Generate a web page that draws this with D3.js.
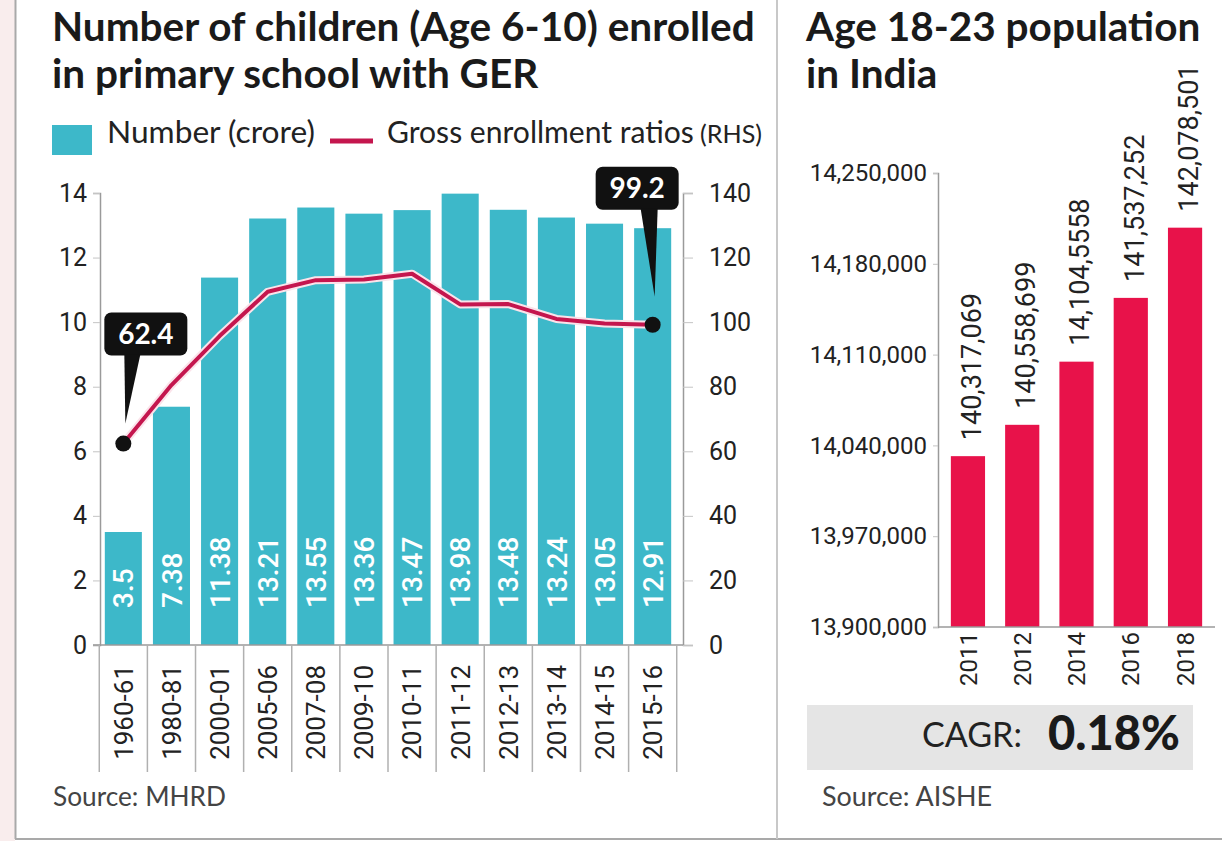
<!DOCTYPE html>
<html>
<head>
<meta charset="utf-8">
<script src="https://cdn.jsdelivr.net/npm/d3@7"></script>
<style>
body { margin: 0; background: #fff; }
svg { display: block; }
</style>
</head>
<body>
<svg id="chart" width="1222" height="841"></svg>
<script>
// left chart data
var periods = ["1960-61", "1980-81", "2000-01", "2005-06", "2007-08", "2009-10", "2010-11", "2011-12", "2012-13", "2013-14", "2014-15", "2015-16"];
var children = [3.5, 7.38, 11.38, 13.21, 13.55, 13.36, 13.47, 13.98, 13.48, 13.24, 13.05, 12.91];
var ger = [62.4, 80.5, 95.7, 109.4, 113.0, 113.2, 115.0, 105.5, 105.6, 101.0, 99.6, 99.2];
var leftTicks = [0, 2, 4, 6, 8, 10, 12, 14];
var rightTicks = [0, 20, 40, 60, 80, 100, 120, 140];
// right chart data
var popYears = ["2011", "2012", "2014", "2016", "2018"];
var popValues = [14031707, 14055870, 14104556, 14153725, 14207850];
var popLabels = ["140,317,069", "140,558,699", "14,104,5558", "141,537,252", "142,078,501"];
var popTicks = [13900000, 13970000, 14040000, 14110000, 14180000, 14250000];
var cagrText = "0.18%";

var teal = "#3db8c9", crimson = "#c4164e", popRed = "#e8124a";
var titleFont = "Lato, 'Noto Sans', sans-serif";
var numFont = "Roboto, 'Noto Sans', sans-serif";

var svg = d3.select("#chart");

//Frame: pink strip on the left, grey borders
svg.append("rect").attr("x", 0).attr("y", 0).attr("width", 15).attr("height", 841).attr("fill", "#f9eded");
svg.append("line").attr("x1", 15.5).attr("y1", 0).attr("x2", 15.5).attr("y2", 839).attr("stroke", "#a9a9a9").attr("stroke-width", 2);
svg.append("line").attr("x1", 15).attr("y1", 839).attr("x2", 1222).attr("y2", 839).attr("stroke", "#a9a9a9").attr("stroke-width", 2);
svg.append("line").attr("x1", 777).attr("y1", 0).attr("x2", 777).attr("y2", 839).attr("stroke", "#c8c8c8").attr("stroke-width", 2);

//scale a text so it spans a given width
function fitWidth(sel, w) {
    var len = sel.node().getComputedTextLength();
    var fs = parseFloat(sel.attr("font-size"));
    sel.attr("font-size", fs * w / len);
}

//Titles
function title(x, y, txt, w) {
    var t = svg.append("text").attr("x", x).attr("y", y).attr("font-family", titleFont).attr("font-weight", 700)
        .attr("font-size", 37).attr("fill", "#1a1a1a").text(txt);
    if(w) fitWidth(t, w);
    return t;
}
var t1 = title(52, 41, "Number of children (Age 6-10) enrolled", 703);
title(52, 88, "in primary school with GER").attr("font-size", t1.attr("font-size"));
title(806, 41, "Age 18-23 population", 387).attr("font-size", t1.attr("font-size"));
title(806, 88, "in India").attr("font-size", t1.attr("font-size"));

//Legend
svg.append("rect").attr("x", 52).attr("y", 125).attr("width", 40).attr("height", 30).attr("fill", teal);
var lg1 = svg.append("text").attr("x", 107).attr("y", 143).attr("font-family", titleFont).attr("font-size", 27).attr("fill", "#222").text("Number (crore)");
fitWidth(lg1, 208);
svg.append("line").attr("x1", 330).attr("y1", 141).attr("x2", 373).attr("y2", 141).attr("stroke", crimson).attr("stroke-width", 5);
var lg2 = svg.append("text").attr("x", 387).attr("y", 143).attr("font-family", titleFont).attr("font-size", 27).attr("fill", "#222").text("Gross enrollment ratios");
fitWidth(lg2, 307);
var lg3 = svg.append("text").attr("x", 700).attr("y", 143).attr("font-family", titleFont).attr("font-size", 22).attr("fill", "#222").text("(RHS)");
fitWidth(lg3, 62);

//Left chart scales
var x = d3.scaleBand().domain(periods).range([100, 676]).paddingInner(0.23).paddingOuter(0.1);
var yL = d3.scaleLinear().domain([0, 14]).range([645, 193]);
var yR = d3.scaleLinear().domain([0, 140]).range([645, 193]);

//Bars
svg.append("g").selectAll("rect").data(children).join("rect")
    .attr("x", function(d, i) { return x(periods[i]); })
    .attr("y", function(d) { return yL(d); })
    .attr("width", x.bandwidth())
    .attr("height", function(d) { return yL(0) - yL(d); })
    .attr("fill", teal);

//Bar value labels
svg.append("g").selectAll("text").data(children).join("text")
    .attr("transform", function(d, i) { return "translate(" + (x(periods[i]) + x.bandwidth() / 2) + ",608) rotate(-90)"; })
    .attr("dy", "0.36em")
    .attr("font-family", numFont).attr("font-weight", 500).attr("font-size", 28).attr("fill", "#fff")
    .text(function(d) { return d; });

//Left axis
var leftAxis = svg.append("g").attr("transform", "translate(100,0)")
    .call(d3.axisLeft(yL).tickValues(leftTicks).tickSize(7).tickPadding(6).tickFormat(d3.format("d")));
leftAxis.select(".domain").attr("stroke", "#9a9a9a").attr("stroke-width", 1.5);
leftAxis.selectAll(".tick line").attr("stroke", "#c4c4c4");
leftAxis.selectAll("text").attr("font-family", numFont).attr("font-size", 25).attr("fill", "#222");

//Right axis
var rightAxis = svg.append("g").attr("transform", "translate(683,0)")
    .call(d3.axisRight(yR).tickValues(rightTicks).tickSize(10).tickPadding(16).tickFormat(d3.format("d")));
rightAxis.select(".domain").attr("stroke", "#9a9a9a").attr("stroke-width", 1.5);
rightAxis.selectAll(".tick line").attr("stroke", "#c4c4c4");
rightAxis.selectAll("text").attr("font-family", numFont).attr("font-size", 25).attr("fill", "#222");

//Baseline and category separators
svg.append("line").attr("x1", 93).attr("y1", 645).attr("x2", 683).attr("y2", 645).attr("stroke", "#9a9a9a").attr("stroke-width", 1.5);
var seps = periods.map(function(p) { return x(p) - x.step() * x.paddingInner() / 2; });
seps.push(x(periods[periods.length - 1]) + x.bandwidth() + x.step() * x.paddingInner() / 2);
svg.append("g").selectAll("line").data(seps).join("line")
    .attr("x1", function(d) { return d; }).attr("x2", function(d) { return d; })
    .attr("y1", 645).attr("y2", 772)
    .attr("stroke", "#b0b0b0").attr("stroke-width", 1.5);

//Category labels
svg.append("g").selectAll("text").data(periods).join("text")
    .attr("transform", function(d) { return "translate(" + (x(d) + x.bandwidth() / 2) + ",665) rotate(-90)"; })
    .attr("dy", "0.36em").attr("text-anchor", "end")
    .attr("font-family", numFont).attr("font-size", 26).attr("fill", "#222")
    .text(function(d) { return d; });

//GER line
var line = d3.line()
    .x(function(d, i) { return x(periods[i]) + x.bandwidth() / 2; })
    .y(function(d) { return yR(d); });
svg.append("path").datum(ger).attr("d", line).attr("fill", "none").attr("stroke", "#fbe3ea").attr("stroke-width", 8).attr("stroke-linejoin", "round");
svg.append("path").datum(ger).attr("d", line).attr("fill", "none").attr("stroke", crimson).attr("stroke-width", 4).attr("stroke-linejoin", "round");

//Callouts on first and last points
function callout(i, dx, dy, baseL, baseR, tipGap) {
    var px = x(periods[i]) + x.bandwidth() / 2, py = yR(ger[i]);
    var bx = px + dx, by = py + dy, w = 83, h = 43;
    var g = svg.append("g");
    g.append("rect").attr("x", bx).attr("y", by).attr("width", w).attr("height", h).attr("rx", 7).attr("fill", "#111");
    g.append("path").attr("d", "M" + (bx + baseL) + "," + (by + h - 1) + "L" + (bx + baseR) + "," + (by + h - 1) + "L" + (px + 2) + "," + (py - tipGap) + "Z").attr("fill", "#111");
    g.append("circle").attr("cx", px).attr("cy", py).attr("r", 8).attr("fill", "#111");
    g.append("text").attr("x", bx + w / 2).attr("y", by + h / 2).attr("dy", "0.36em").attr("text-anchor", "middle")
        .attr("font-family", titleFont).attr("font-weight", 700).attr("font-size", 28).attr("fill", "#fff").text(ger[i]);
}
callout(0, -19, -131, 20, 36, 20);
callout(ger.length - 1, -57, -158, 45, 62, 28);

//Right chart
var xP = d3.scaleBand().domain(popYears).range([940, 1213]).paddingInner(0.37).paddingOuter(0.2);
var yP = d3.scaleLinear().domain([13900000, 14250000]).range([627, 173]);

svg.append("g").selectAll("rect").data(popValues).join("rect")
    .attr("x", function(d, i) { return xP(popYears[i]); })
    .attr("y", function(d) { return yP(d); })
    .attr("width", xP.bandwidth())
    .attr("height", function(d) { return yP(13900000) - yP(d); })
    .attr("fill", popRed);

svg.append("g").selectAll("text").data(popValues).join("text")
    .attr("transform", function(d, i) { return "translate(" + (xP(popYears[i]) + xP.bandwidth() / 2 + 3) + "," + (yP(d) - 16) + ") rotate(-90)"; })
    .attr("dy", "0.36em")
    .attr("font-family", numFont).attr("font-size", 27).attr("fill", "#222")
    .text(function(d, i) { return popLabels[i]; });

var popAxis = svg.append("g").attr("transform", "translate(938,0)")
    .call(d3.axisLeft(yP).tickValues(popTicks).tickSize(5).tickPadding(6).tickFormat(d3.format(",")));
popAxis.select(".domain").attr("stroke", "#9a9a9a").attr("stroke-width", 1.5);
popAxis.selectAll(".tick line").attr("stroke", "#c4c4c4");
popAxis.selectAll("text").attr("font-family", numFont).attr("font-size", 24).attr("fill", "#222");

svg.append("line").attr("x1", 938).attr("y1", 627).attr("x2", 1215).attr("y2", 627).attr("stroke", "#9a9a9a").attr("stroke-width", 1.5);

svg.append("g").selectAll("text").data(popYears).join("text")
    .attr("transform", function(d) { return "translate(" + (xP(d) + xP.bandwidth() / 2) + ",632) rotate(-90)"; })
    .attr("dy", "0.36em").attr("text-anchor", "end")
    .attr("font-family", numFont).attr("font-size", 24).attr("fill", "#222")
    .text(function(d) { return d; });

//CAGR box
svg.append("rect").attr("x", 807).attr("y", 705).attr("width", 386).attr("height", 65).attr("fill", "#e5e5e5");
var cg = svg.append("text").attr("x", 922).attr("y", 747).attr("font-family", titleFont).attr("font-size", 30).attr("fill", "#222").text("CAGR:");
fitWidth(cg, 100);
var cv = svg.append("text").attr("x", 1048).attr("y", 750).attr("font-family", titleFont).attr("font-weight", 900).attr("font-size", 44).attr("fill", "#1a1a1a").text(cagrText);
fitWidth(cv, 132);

//Sources
var s1 = svg.append("text").attr("x", 53).attr("y", 806).attr("font-family", titleFont).attr("font-size", 26).attr("fill", "#444").text("Source: MHRD");
fitWidth(s1, 173);
var s2 = svg.append("text").attr("x", 822).attr("y", 806).attr("font-family", titleFont).attr("font-size", 26).attr("fill", "#444").text("Source: AISHE");
fitWidth(s2, 170);
</script>
</body>
</html>
